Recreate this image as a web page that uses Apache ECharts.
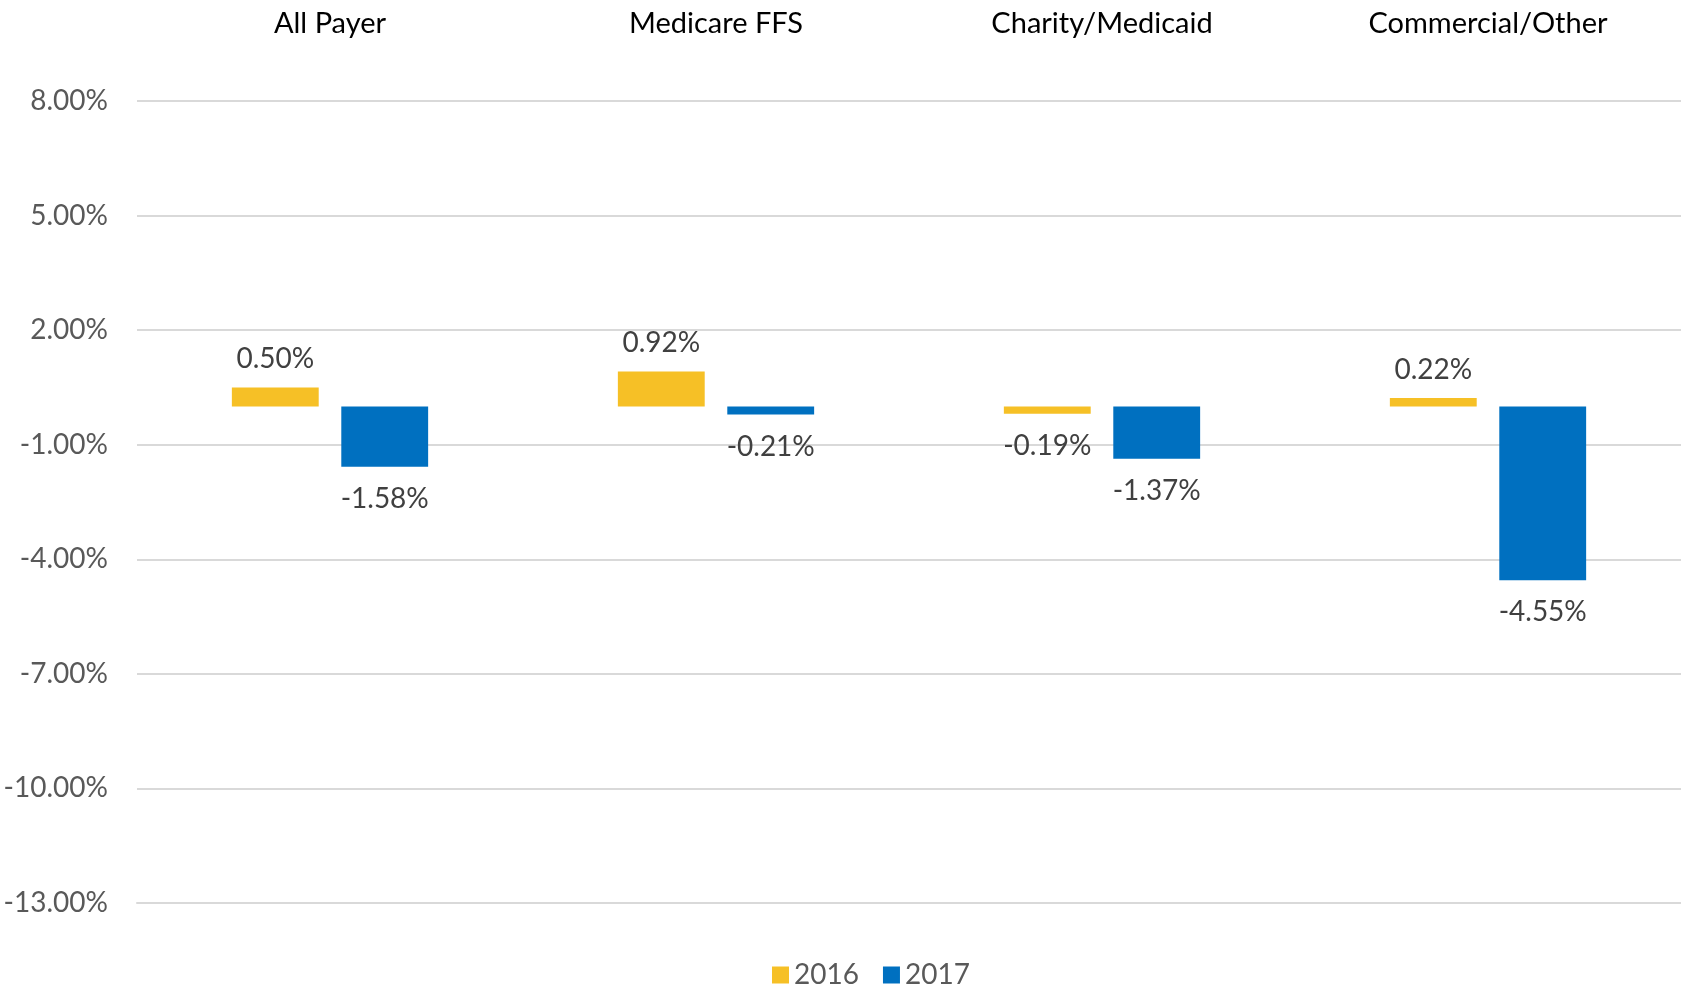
<!DOCTYPE html>
<html>
<head>
<meta charset="utf-8">
<script src="https://cdn.jsdelivr.net/npm/echarts@6/dist/echarts.min.js"></script>
<style>
  html, body { margin: 0; padding: 0; background: #fff; }
  #grafico { width: 1681px; height: 987px; }
</style>
</head>
<body>
<div id="grafico"></div>
<script>
// datos del grafico
var categorias = ['All Payer', 'Medicare FFS', 'Charity/Medicaid', 'Commercial/Other'];
var anios = ['2016', '2017'];
var valores2016 = [0.50, 0.92, -0.19, 0.22];
var valores2017 = [-1.58, -0.21, -1.37, -4.55];

var colores = ['#F6C026', '#0070C0'];
var fuente = 'Lato';

// etiqueta arriba si es positivo, abajo si es negativo
function armarDatos(lista) {
  return lista.map(function (v) {
    return {
      value: v,
      label: { position: v < 0 ? 'bottom' : 'top', distance: v < 0 ? 18 : 14 }
    };
  });
}

function serie(nombre, lista, color) {
  return {
    name: nombre,
    type: 'bar',
    xAxisIndex: 0,
    barWidth: '22.5%',
    barGap: '26%',
    itemStyle: { color: color },
    label: {
      show: true,
      color: '#404040',
      fontFamily: fuente,
      fontSize: 28,
      formatter: function (p) { return p.value.toFixed(2) + '%'; }
    },
    data: armarDatos(lista)
  };
}

var chart = echarts.init(document.getElementById('grafico'));

chart.setOption({
  animation: false,
  grid: { left: 137, right: 0, top: 101, bottom: 84 },
  legend: {
    left: 767,
    top: 956,
    icon: 'rect',
    itemWidth: 17,
    itemHeight: 17,
    itemGap: 24,
    textStyle: { color: '#595959', fontFamily: fuente, fontSize: 28 },
    data: anios
  },
  xAxis: [
    {
      type: 'category',
      position: 'top',
      data: categorias,
      axisLine: { show: false },
      axisTick: { show: false },
      axisLabel: { color: '#000', fontFamily: fuente, fontSize: 29, margin: 63 }
    },
    {
      // linea del cero
      type: 'category',
      position: 'bottom',
      data: categorias,
      axisLine: { show: true, onZero: true, lineStyle: { color: '#D9D9D9', width: 2 } },
      axisTick: { show: false },
      axisLabel: { show: false }
    }
  ],
  yAxis: {
    type: 'value',
    min: -13,
    max: 8,
    interval: 3,
    axisLine: { show: false },
    axisTick: { show: false },
    splitLine: { lineStyle: { color: '#D9D9D9', width: 2 } },
    axisLabel: {
      color: '#595959',
      fontFamily: fuente,
      fontSize: 28,
      margin: 29,
      formatter: function (v) { return v.toFixed(2) + '%'; }
    }
  },
  series: [
    serie(anios[0], valores2016, colores[0]),
    serie(anios[1], valores2017, colores[1])
  ]
});
</script>
</body>
</html>
